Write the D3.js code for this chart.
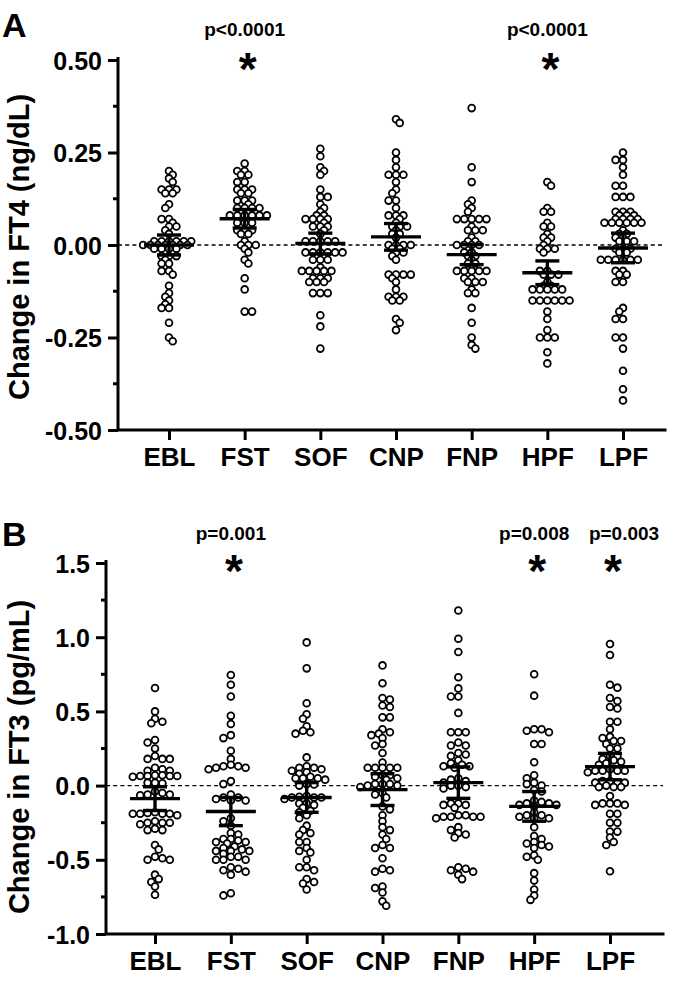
<!DOCTYPE html>
<html><head><meta charset="utf-8">
<script src="https://cdn.jsdelivr.net/npm/d3@7"></script>
<style>
body{margin:0;background:#fff}
svg{display:block}
text{font-family:"Liberation Sans",Arial,Helvetica,sans-serif;font-weight:bold;fill:#000}
</style>
</head><body>
<svg id="chart" width="680" height="982"></svg>
<script>
const categories = ["EBL","FST","SOF","CNP","FNP","HPF","LPF"];

// Panel A: change in FT4 (ng/dL), measured to 0.01
const ft4_EBL = [0.20,0.19,0.18,0.17,0.15,0.15,0.15,0.14,0.14,0.11,0.10,0.07,0.07,0.06,0.05,0.05,0.04,0.03,0.01,0.01,0.01,0.01,0.01,0.01,0,0,0,0,0,0,0,-0.01,-0.01,-0.01,-0.01,-0.03,-0.03,-0.03,-0.04,-0.05,-0.05,-0.07,-0.07,-0.08,-0.11,-0.13,-0.14,-0.15,-0.16,-0.17,-0.17,-0.21,-0.25,-0.26];
const ft4_FST = [0.22,0.20,0.20,0.19,0.19,0.17,0.17,0.15,0.15,0.15,0.14,0.14,0.12,0.12,0.12,0.11,0.10,0.10,0.10,0.10,0.08,0.08,0.08,0.08,0.08,0.08,0.06,0.06,0.06,0.04,0.04,0.04,0.03,0.03,0.01,0,0,0,-0.01,-0.02,-0.04,-0.05,-0.09,-0.12,-0.18,-0.18];
const ft4_SOF = [0.26,0.24,0.21,0.20,0.19,0.15,0.13,0.13,0.11,0.10,0.09,0.08,0.08,0.07,0.07,0.07,0.07,0.06,0.05,0.05,0.05,0.04,0.03,0.01,0.01,0.01,0.01,0.01,-0.02,-0.02,-0.02,-0.02,-0.02,-0.02,-0.04,-0.04,-0.04,-0.06,-0.07,-0.07,-0.07,-0.07,-0.07,-0.09,-0.09,-0.09,-0.10,-0.10,-0.10,-0.13,-0.13,-0.13,-0.19,-0.22,-0.28];
const ft4_CNP = [0.34,0.33,0.25,0.23,0.21,0.19,0.19,0.19,0.17,0.15,0.14,0.12,0.12,0.10,0.08,0.08,0.08,0.07,0.06,0.05,0.05,0.05,0.04,0.03,0.03,0.02,0,0,0,0,-0.01,-0.01,-0.02,-0.02,-0.03,-0.04,-0.08,-0.08,-0.08,-0.08,-0.09,-0.10,-0.12,-0.14,-0.14,-0.14,-0.15,-0.15,-0.20,-0.21,-0.23];
const ft4_FNP = [0.37,0.21,0.17,0.12,0.11,0.10,0.09,0.07,0.07,0.07,0.07,0.07,0.05,0.04,0.04,0.04,0.02,0.01,0.01,0,0,0,0,-0.02,-0.02,-0.03,-0.03,-0.04,-0.05,-0.05,-0.07,-0.07,-0.07,-0.07,-0.07,-0.09,-0.09,-0.10,-0.10,-0.10,-0.12,-0.13,-0.13,-0.17,-0.21,-0.25,-0.27,-0.28];
const ft4_HPF = [0.17,0.16,0.10,0.09,0.09,0.06,0.05,0.05,0.03,0.02,0.02,0.01,0,-0.01,-0.01,-0.01,-0.02,-0.07,-0.07,-0.08,-0.08,-0.08,-0.10,-0.11,-0.11,-0.12,-0.12,-0.12,-0.12,-0.12,-0.15,-0.15,-0.15,-0.15,-0.15,-0.15,-0.18,-0.20,-0.23,-0.25,-0.25,-0.25,-0.29,-0.32];
const ft4_LPF = [0.25,0.23,0.23,0.21,0.19,0.16,0.16,0.13,0.13,0.13,0.09,0.09,0.09,0.08,0.08,0.08,0.07,0.07,0.07,0.07,0.06,0.06,0.06,0.06,0.06,0.06,0.04,0.03,0.03,0.02,0.02,0.01,0.01,0.01,-0.01,-0.01,-0.01,-0.02,-0.02,-0.04,-0.04,-0.04,-0.04,-0.04,-0.04,-0.07,-0.07,-0.08,-0.08,-0.10,-0.10,-0.17,-0.18,-0.20,-0.20,-0.25,-0.25,-0.28,-0.34,-0.39,-0.42];
const ft4Mean = [0.0, 0.071, 0.004, 0.022, -0.026, -0.075, -0.008];
const ft4Sem  = [0.027, 0.025, 0.028, 0.036, 0.027, 0.032, 0.04];
const ft4Ticks = [-0.5, -0.25, 0, 0.25, 0.5];
const ft4Minor = [-0.375, -0.125, 0.125, 0.375];
const ft4Sig = [["FST","p<0.0001"],["HPF","p<0.0001"]];

// Panel B: change in FT3 (pg/mL)
const ft3_EBL = [0.658,0.5,0.45,0.43,0.42,0.307,0.29,0.25,0.2,0.18,0.18,0.18,0.12,0.11,0.1,0.1,0.07,0.07,0.065,0.065,0.065,0.065,0.06,0.02,0.02,0.015,-0.04,-0.06,-0.06,-0.065,-0.05,-0.18,-0.19,-0.19,-0.2,-0.19,-0.185,-0.19,-0.25,-0.25,-0.24,-0.25,-0.26,-0.3,-0.3,-0.29,-0.4,-0.43,-0.48,-0.5,-0.5,-0.49,-0.6,-0.63,-0.65,-0.68,-0.735];
const ft3_FST = [0.745,0.68,0.6,0.47,0.415,0.34,0.32,0.235,0.18,0.14,0.12,0.12,0.13,0.11,0.13,0.03,0.01,-0.06,-0.08,-0.1,-0.09,-0.1,-0.08,-0.22,-0.24,-0.27,-0.32,-0.33,-0.38,-0.36,-0.38,-0.37,-0.39,-0.36,-0.44,-0.42,-0.44,-0.41,-0.44,-0.43,-0.5,-0.48,-0.48,-0.46,-0.5,-0.5,-0.58,-0.57,-0.55,-0.6,-0.56,-0.74,-0.725];
const ft3_SOF = [0.965,0.79,0.555,0.48,0.45,0.4,0.37,0.36,0.35,0.19,0.13,0.1,0.12,0.11,0.09,0.08,0.12,0.05,0.05,0.06,0.05,0.04,0.007,0.01,0.0,-0.07,-0.08,-0.08,-0.075,-0.09,-0.08,-0.12,-0.13,-0.12,-0.15,-0.2,-0.18,-0.17,-0.22,-0.27,-0.3,-0.32,-0.33,-0.38,-0.42,-0.44,-0.38,-0.45,-0.5,-0.55,-0.55,-0.57,-0.63,-0.65,-0.66,-0.7];
const ft3_CNP = [0.81,0.69,0.59,0.58,0.54,0.53,0.46,0.46,0.38,0.36,0.35,0.34,0.32,0.28,0.27,0.22,0.155,0.12,0.12,0.12,0.12,0.12,0.07,0.06,0.07,0.05,0.04,0.0,0.01,0.0,-0.01,0.01,0.01,-0.06,-0.08,-0.05,-0.16,-0.14,-0.2,-0.24,-0.28,-0.3,-0.33,-0.4,-0.36,-0.42,-0.42,-0.49,-0.58,-0.56,-0.57,-0.72,-0.68,-0.69,-0.81,-0.78];
const ft3_FNP = [1.18,0.99,0.9,0.73,0.655,0.6,0.6,0.49,0.36,0.36,0.36,0.29,0.27,0.27,0.22,0.21,0.2,0.17,0.15,0.14,0.13,0.13,0.12,0.05,0.04,0.02,0.0,0.0,-0.01,0.03,-0.02,-0.12,-0.12,-0.13,-0.13,-0.15,-0.2,-0.21,-0.21,-0.2,-0.21,-0.22,-0.21,-0.28,-0.3,-0.32,-0.33,-0.35,-0.55,-0.57,-0.56,-0.58,-0.6,-0.63];
const ft3_HPF = [0.75,0.606,0.38,0.38,0.37,0.36,0.28,0.28,0.157,0.07,0.05,0.0,0.01,0.02,-0.03,-0.04,-0.1,-0.13,-0.12,-0.13,-0.12,-0.11,-0.14,-0.2,-0.22,-0.2,-0.21,-0.18,-0.22,-0.28,-0.36,-0.41,-0.34,-0.39,-0.4,-0.42,-0.38,-0.47,-0.5,-0.48,-0.59,-0.64,-0.7,-0.74,-0.77];
const ft3_LPF = [0.954,0.88,0.68,0.66,0.59,0.57,0.53,0.52,0.43,0.43,0.38,0.33,0.32,0.3,0.3,0.28,0.25,0.25,0.2,0.2,0.18,0.17,0.16,0.15,0.14,0.1,0.1,0.11,0.1,0.09,0.1,0.03,0.03,0.02,0.02,0.02,0.0,-0.01,-0.01,-0.01,-0.07,-0.13,-0.12,-0.12,-0.12,-0.13,-0.19,-0.19,-0.25,-0.25,-0.31,-0.4,-0.35,-0.38,-0.31,-0.577];
const ft3Mean = [-0.088, -0.175, -0.08, -0.027, 0.02, -0.14, 0.128];
const ft3Sem  = [0.08, 0.095, 0.1, 0.107, 0.106, 0.1, 0.089];
const ft3Ticks = [-1.0, -0.5, 0, 0.5, 1.0, 1.5];
const ft3Minor = [-0.75, -0.25, 0.25, 0.75, 1.25];
const ft3Sig = [["FST","p=0.001"],["HPF","p=0.008"],["LPF","p=0.003"]];

const svg = d3.select("#chart");
const R = 3.4, STEP = 7.4;

// scatter layout: half-step horizontal grid, partial overlap allowed (as in Prism)
function swarm(values, y, cx) {
  const pts = values.map(v => ({v, py: y(v)})).sort((a, b) => a.py - b.py);
  const placed = [];
  const D = 5.0, H = STEP / 2;
  pts.forEach((p, idx) => {
    const sign = idx % 2 ? 1 : -1;
    for (let k = 0; k < 80; k++) {
      const off = k === 0 ? 0 : (k % 2 ? sign : -sign) * Math.ceil(k / 2) * H;
      const px = cx + off;
      if (placed.every(q => (q.px - px) ** 2 + (q.py - p.py) ** 2 >= D * D - 0.01)) { p.px = px; break; }
    }
    placed.push(p);
  });
  return pts;
}

function panel(opt) {
  const g = svg.append("g");
  const x = d3.scalePoint().domain(categories).range(opt.xRange);
  const y = d3.scaleLinear().domain(opt.yDomain).range(opt.yRange);
  const fmt = v => d3.format(opt.fmt)(v).replace("\u2212", "-");

  g.append("line")
    .attr("x1", opt.axisX).attr("x2", opt.axisEnd)
    .attr("y1", y(0)).attr("y2", y(0))
    .attr("stroke", "#000").attr("stroke-width", 1.4)
    .attr("stroke-dasharray", "4,3.2");

  opt.series.forEach((vals, i) => {
    const pts = swarm(vals, y, x(categories[i]));
    g.append("g").selectAll("circle").data(pts).join("circle")
      .attr("cx", d => d.px).attr("cy", d => d.py).attr("r", R)
      .attr("fill", "#fff").attr("stroke", "#000").attr("stroke-width", 1.8);
  });

  const mg = g.append("g").attr("stroke", "#000").attr("stroke-width", 3.4);
  categories.forEach((c, i) => {
    const cx = x(c), m = opt.mean[i], s = opt.sem[i];
    mg.append("line").attr("x1", cx - 25).attr("x2", cx + 25).attr("y1", y(m)).attr("y2", y(m));
    mg.append("line").attr("x1", cx).attr("x2", cx).attr("y1", y(m + s)).attr("y2", y(m - s));
    mg.append("line").attr("x1", cx - 12).attr("x2", cx + 12).attr("y1", y(m + s)).attr("y2", y(m + s));
    mg.append("line").attr("x1", cx - 12).attr("x2", cx + 12).attr("y1", y(m - s)).attr("y2", y(m - s));
  });

  const ya = g.append("g").attr("transform", `translate(${opt.axisX},0)`)
    .call(d3.axisLeft(y).tickValues(opt.ticks).tickFormat(fmt).tickSize(10).tickPadding(6));
  ya.select(".domain").remove();
  ya.selectAll(".tick line").attr("stroke-width", 3);
  ya.selectAll(".tick text").style("font-size", "25px").style("font-family", null).attr("dy", "0.36em");
  ya.append("g").selectAll("line").data(opt.minor).join("line")
    .attr("x1", -5).attr("x2", 0).attr("y1", d => y(d)).attr("y2", d => y(d))
    .attr("stroke", "#000").attr("stroke-width", 3);

  const xa = g.append("g").attr("transform", `translate(0,${opt.yRange[0]})`)
    .call(d3.axisBottom(x).tickSize(10).tickPadding(8));
  xa.select(".domain").remove();
  xa.selectAll(".tick line").attr("stroke-width", 3);
  xa.selectAll(".tick text").style("font-size", "26px").style("font-family", null);

  g.append("path")
    .attr("d", `M${opt.axisX},${opt.yRange[1] - 1.5}V${opt.yRange[0]}H${opt.axisEnd}`)
    .attr("fill", "none").attr("stroke", "#000").attr("stroke-width", 3)
    .attr("stroke-linecap", "square");

  g.append("text")
    .attr("transform", `translate(${opt.titleX},${opt.titleY}) rotate(-90)`)
    .attr("text-anchor", "middle").style("font-size", "29px").text(opt.title);

  g.append("text").attr("x", 2).attr("y", opt.letterY).style("font-size", "34px").text(opt.letter);

  opt.sig.forEach(([c, p], k) => {
    const cx = x(c) + (opt.sigDx ? opt.sigDx[k] : 0);
    g.append("text").attr("x", cx).attr("y", opt.pY).attr("text-anchor", "middle")
      .style("font-size", "19px").text(p);
    g.append("text").attr("x", x(c) + 3).attr("y", opt.starY).attr("text-anchor", "middle")
      .style("font-size", "46px").text("*");
  });
}

panel({
  xRange: [169, 623], yDomain: [-0.5, 0.5], yRange: [430, 60],
  axisX: 118, axisEnd: 665, fmt: ".2f",
  ticks: ft4Ticks, minor: ft4Minor,
  series: [ft4_EBL, ft4_FST, ft4_SOF, ft4_CNP, ft4_FNP, ft4_HPF, ft4_LPF],
  mean: ft4Mean, sem: ft4Sem,
  title: "Change in FT4 (ng/dL)", titleX: 29, titleY: 247,
  letter: "A", letterY: 37, sig: ft4Sig, pY: 36, starY: 85
});

panel({
  xRange: [155, 610], yDomain: [-1.0, 1.5], yRange: [934, 563],
  axisX: 106, axisEnd: 663, fmt: ".1f",
  ticks: ft3Ticks, minor: ft3Minor,
  series: [ft3_EBL, ft3_FST, ft3_SOF, ft3_CNP, ft3_FNP, ft3_HPF, ft3_LPF],
  mean: ft3Mean, sem: ft3Sem,
  title: "Change in FT3 (pg/mL)", titleX: 29, titleY: 757,
  letter: "B", letterY: 546, sig: ft3Sig, sigDx: [0, 0, 14], pY: 540, starY: 587
});
</script>
</body></html>
